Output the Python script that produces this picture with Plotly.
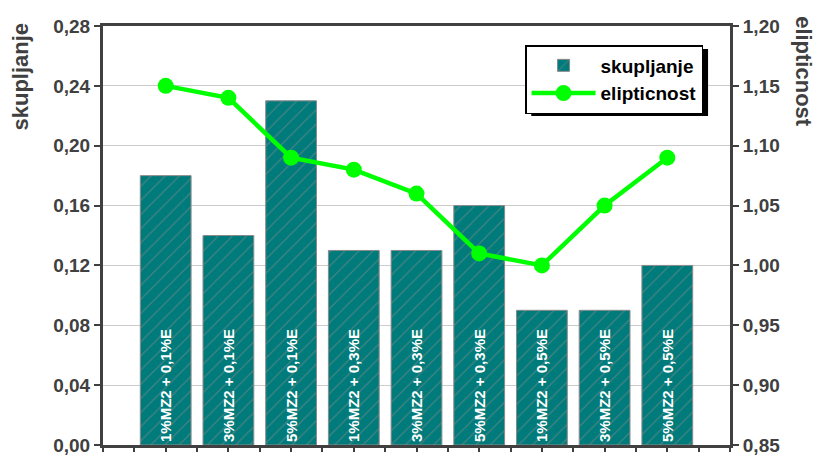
import plotly.graph_objects as go

# Mixture labels (one per bar)
categories = [
    "1%MZ2 + 0,1%E", "3%MZ2 + 0,1%E", "5%MZ2 + 0,1%E",
    "1%MZ2 + 0,3%E", "3%MZ2 + 0,3%E", "5%MZ2 + 0,3%E",
    "1%MZ2 + 0,5%E", "3%MZ2 + 0,5%E", "5%MZ2 + 0,5%E",
]
skupljanje = [0.18, 0.14, 0.23, 0.13, 0.13, 0.16, 0.09, 0.09, 0.12]
elipticnost = [1.15, 1.14, 1.09, 1.08, 1.06, 1.01, 1.00, 1.05, 1.09]

left_ticks = [0.00, 0.04, 0.08, 0.12, 0.16, 0.20, 0.24, 0.28]
right_ticks = [0.85, 0.90, 0.95, 1.00, 1.05, 1.10, 1.15, 1.20]

x = list(range(len(categories)))
AXIS = "#404040"
FONT = "Liberation Sans, Arial, sans-serif"

# plot area spans 26..445 px vertically
TOP, BOTTOM = 26, 445
PLOT_H = BOTTOM - TOP


def py(px):
    """pixel row -> paper y"""
    return (BOTTOM - px) / PLOT_H


fig = go.Figure()

fig.add_trace(go.Bar(
    x=x, y=skupljanje, name="skupljanje",
    width=0.81,
    marker=dict(
        color="#007b7b",
        line=dict(color="#8a8a8a", width=1),
        pattern=dict(shape="/", fgcolor="#8c8c8c", bgcolor="#007b7b",
                     size=10, solidity=0.12),
    ),
    text=categories, textposition="inside", insidetextanchor="start",
    textangle=-90, constraintext="none",
    textfont=dict(family=FONT, size=15, color="white", weight="bold"),
    yaxis="y",
))

fig.add_trace(go.Scatter(
    x=x, y=elipticnost, name="elipticnost", mode="lines+markers",
    line=dict(color="#00ff00", width=4.5),
    marker=dict(color="#00ff00", size=16, line=dict(width=0)),
    yaxis="y2",
))

half_steps = [i * 0.5 - 1 for i in range(21)]

fig.update_layout(
    width=815, height=455,
    margin=dict(l=103, r=85, t=TOP, b=455 - BOTTOM, autoexpand=False),
    paper_bgcolor="white", plot_bgcolor="white",
    separators=", ",
    showlegend=True,
    font=dict(family=FONT, color=AXIS, size=19, weight="bold"),
    xaxis=dict(
        range=[-1, 9], tickvals=half_steps, showticklabels=False,
        ticks="outside", ticklen=4, tickwidth=2, tickcolor=AXIS,
        showgrid=False, zeroline=False, automargin=False,
        showline=True, linecolor=AXIS, linewidth=3, mirror=True,
    ),
    yaxis=dict(
        range=[0, 0.28], tickvals=left_ticks, tickformat=".2f",
        ticks="outside", ticklen=6, tickwidth=2, tickcolor=AXIS,
        showgrid=True, gridcolor="#cccccc", gridwidth=1, zeroline=False,
        showline=True, linecolor=AXIS, linewidth=3, automargin=False,
        ticklabeloverflow="allow",
        tickfont=dict(family=FONT, size=19, color=AXIS, weight="bold"),
    ),
    yaxis2=dict(
        range=[0.85, 1.20], tickvals=right_ticks, tickformat=".2f",
        overlaying="y", side="right",
        ticks="outside", ticklen=6, tickwidth=2, tickcolor=AXIS,
        showgrid=False, zeroline=False, automargin=False,
        showline=True, linecolor=AXIS, linewidth=3,
        ticklabeloverflow="allow",
        tickfont=dict(family=FONT, size=19, color=AXIS, weight="bold"),
    ),
    legend=dict(
        x=0.957, xanchor="right", y=py(45), yanchor="top",
        bgcolor="white", bordercolor="black", borderwidth=1.5,
        font=dict(family=FONT, size=19, color="black", weight="bold"),
        itemwidth=64, tracegroupgap=0,
    ),
)

# legend drop shadow
fig.add_shape(type="rect", xref="paper", yref="paper",
              x0=0.683, x1=0.965, y0=py(116), y1=py(49),
              fillcolor="black", line=dict(width=0), layer="above")

# axis titles
fig.add_annotation(text="skupljanje", xref="paper", yref="paper",
                   x=-0.13, y=py(20), xanchor="center", yanchor="top",
                   textangle=-90, showarrow=False,
                   font=dict(family=FONT, size=22, color=AXIS, weight="bold"))
fig.add_annotation(text="elipticnost", xref="paper", yref="paper",
                   x=1.117, y=py(14), xanchor="center", yanchor="top",
                   textangle=90, showarrow=False,
                   font=dict(family=FONT, size=22, color=AXIS, weight="bold"))

fig.write_html("out.html")
